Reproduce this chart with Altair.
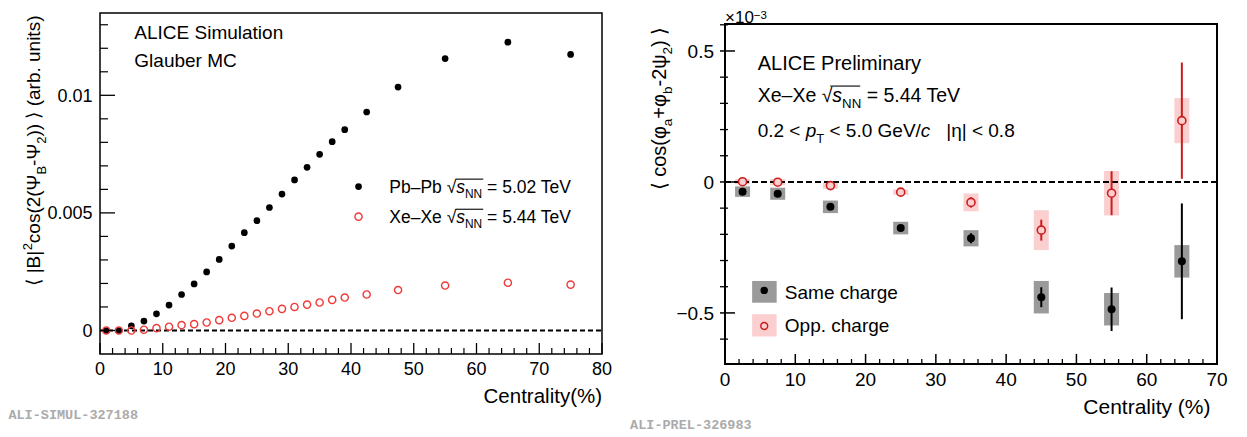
import altair as alt
import pandas as pd

SANS = "Liberation Sans"
MONO = "Liberation Mono"

# ---------------- Left panel: Glauber MC ----------------
cent_left = [1, 3, 5, 7, 9, 11, 13, 15, 17, 19, 21, 23, 25, 27, 29, 31, 33, 35, 37, 39,
             42.5, 47.5, 55, 65, 75]
pbpb_b2 = [0.0, 0.0, 0.00020, 0.00040, 0.00071, 0.00108, 0.00153, 0.00198, 0.00249, 0.00302,
           0.00359, 0.00416, 0.00467, 0.00523, 0.00580, 0.00640, 0.00694, 0.00749, 0.00803, 0.00854,
           0.00929, 0.01035, 0.01156, 0.01226, 0.01174]
xexe_b2 = [0.0, 0.0, 0.0, 0.00003, 0.00010, 0.00016, 0.00023, 0.00027, 0.00034, 0.00044,
           0.00054, 0.00062, 0.00072, 0.00082, 0.00092, 0.00100, 0.00110, 0.00119, 0.00130, 0.00140,
           0.00153, 0.00172, 0.00191, 0.00203, 0.00195]

# ---------------- Right panel: ALICE Preliminary (x 1e-3) ----------------
cent_right = [2.5, 7.5, 15, 25, 35, 45, 55, 65]
same_val = [-0.037, -0.045, -0.095, -0.176, -0.215, -0.440, -0.486, -0.303]
same_stat = [0.005, 0.005, 0.006, 0.008, 0.019, 0.038, 0.083, 0.221]
same_sys = [0.020, 0.023, 0.024, 0.024, 0.031, 0.062, 0.062, 0.062]
opp_val = [0.001, -0.001, -0.014, -0.039, -0.078, -0.184, -0.043, 0.234]
opp_stat = [0.004, 0.004, 0.005, 0.007, 0.020, 0.040, 0.084, 0.222]
opp_sys = [0.010, 0.012, 0.012, 0.010, 0.034, 0.076, 0.085, 0.086]

# tick values and tick labels
left_x_major = list(range(0, 81, 10))
left_x_labels = ["0", "10", "20", "30", "40", "50", "60", "70", "80"]
left_x_minor = [v for v in range(0, 81, 2) if v % 10]
left_y_major = [0, 0.005, 0.01]
left_y_labels = ["0", "0.005", "0.01"]
left_y_minor = [round(i * 0.001, 4) for i in range(1, 14) if i % 5]
right_x_major = list(range(0, 71, 10))
right_x_labels = ["0", "10", "20", "30", "40", "50", "60", "70"]
right_x_minor = [v for v in range(0, 71, 2) if v % 10]
right_y_major = [-0.5, 0, 0.5]
right_y_labels = ["−0.5", "0", "0.5"]
right_y_minor = [round(i * 0.1, 1) for i in range(-6, 7) if i % 5]

df_left = pd.DataFrame({"cent": cent_left, "pb": pbpb_b2, "xe": xexe_b2})
df_right = pd.DataFrame({
    "cent": cent_right,
    "same": same_val, "opp": opp_val,
    "same_lo": [v - e for v, e in zip(same_val, same_stat)],
    "same_hi": [v + e for v, e in zip(same_val, same_stat)],
    "same_slo": [v - e for v, e in zip(same_val, same_sys)],
    "same_shi": [v + e for v, e in zip(same_val, same_sys)],
    "opp_lo": [v - e for v, e in zip(opp_val, opp_stat)],
    "opp_hi": [v + e for v, e in zip(opp_val, opp_stat)],
    "opp_slo": [v - e for v, e in zip(opp_val, opp_sys)],
    "opp_shi": [v + e for v, e in zip(opp_val, opp_sys)],
})
one = pd.DataFrame({"k": [0]})

# scales (explicit pixel ranges place the two panels)
LX_DOM, LX_RNG = [0, 80], [92, 594]
LY_DOM, LY_RNG = [-0.001, 0.0135], [346, 5]
RX_DOM, RX_RNG = [0, 70], [712, 1214]
RY_DOM, RY_RNG = [-0.695, 0.603], [356, 16]
lxs = alt.Scale(domain=LX_DOM, range=LX_RNG, nice=False, zero=False)
lys = alt.Scale(domain=LY_DOM, range=LY_RNG, nice=False, zero=False)
rxs = alt.Scale(domain=RX_DOM, range=RX_RNG, nice=False, zero=False)
rys = alt.Scale(domain=RY_DOM, range=RY_RNG, nice=False, zero=False)


def k(dom, rng):
    return abs((rng[1] - rng[0]) / (dom[1] - dom[0]))


KLX, KLY, KRX, KRY = k(LX_DOM, LX_RNG), k(LY_DOM, LY_RNG), k(RX_DOM, RX_RNG), k(RY_DOM, RY_RNG)

# ---------------- rich text helper ----------------
W = {' ': 278, '(': 333, ')': 333, '+': 584, '-': 333, '.': 278, '/': 278, '<': 584, '=': 584,
     '%': 889, '|': 260, '×': 584, '–': 556, '−': 584, '√': 549, '⟨': 390, '⟩': 390,
     'Ψ': 835, 'φ': 650, 'ψ': 712, 'η': 556}
for ch in "0123456789":
    W[ch] = 556
W.update({'A': 667, 'B': 667, 'C': 722, 'E': 667, 'G': 778, 'I': 278, 'L': 556, 'M': 833,
          'N': 722, 'P': 667, 'S': 667, 'T': 611, 'V': 667, 'X': 667})
W.update({'a': 556, 'b': 556, 'c': 500, 'e': 556, 'g': 556, 'h': 556, 'i': 222, 'l': 222,
          'm': 833, 'n': 556, 'o': 556, 'p': 556, 'r': 333, 's': 500, 't': 278, 'u': 556,
          'y': 500})


def tw(s, size):
    return sum(W.get(ch, 556) for ch in s) / 1000.0 * size


def rich(pieces, x, y, xs, ys, size, angle=0, align="left", color="black", sup_dy=0.42):
    sizes = [size * 0.68 if k in ("sub", "sup") else size for _, k in pieces]
    widths = [tw(t, fs) for (t, _), fs in zip(pieces, sizes)]
    cum = 0.0 if align == "left" else -sum(widths)
    out = []
    for (t, k), fs, w in zip(pieces, sizes, widths):
        lead = len(t) - len(t.lstrip(" "))
        txt = t.strip(" ")
        if k != "sp" and txt:
            dy = 0.30 * size if k == "sub" else (-sup_dy * size if k == "sup" else 0)
            out.append(
                alt.Chart(one).mark_text(
                    text=txt, align="left", baseline="alphabetic",
                    dx=cum + tw(" " * lead, fs), dy=dy, fontSize=fs, font=SANS,
                    fontStyle="italic" if k == "i" else "normal", angle=angle, color=color,
                ).encode(x=alt.XDatum(x, scale=xs, axis=None), y=alt.YDatum(y, scale=ys, axis=None))
            )
        cum += w
    return out


def sqrt_bar(prefix, x, y, xs, ys, kx, ky, size):
    """Overline of the radical sign that follows `prefix` (covers s_NN)."""
    start = tw(prefix, size) - 0.6
    end = tw(prefix, size) + tw("s", size) + tw("NN", size * 0.68) + 1
    rise = 0.80 * size
    return alt.Chart(one).mark_rule(color="black", strokeWidth=1.1).encode(
        x=alt.XDatum(x + start / kx, scale=xs, axis=None), x2=alt.X2Datum(x + end / kx),
        y=alt.YDatum(y + rise / ky, scale=ys, axis=None))


def xticks(vals, xs, y0, length, sw):
    return alt.Chart(pd.DataFrame({"v": vals})).mark_rule(color="black", strokeWidth=sw).encode(
        x=alt.X("v:Q", scale=xs, axis=None), y=alt.value(y0), y2=alt.value(y0 - length))


def yticks(vals, ys, x0, length, sw):
    return alt.Chart(pd.DataFrame({"v": vals})).mark_rule(color="black", strokeWidth=sw).encode(
        y=alt.Y("v:Q", scale=ys, axis=None), x=alt.value(x0), x2=alt.value(x0 + length))


def xlabels(vals, texts, xs, ybase, size):
    return alt.Chart(pd.DataFrame({"v": vals, "t": texts})).mark_text(
        align="center", baseline="alphabetic", font=SANS, fontSize=size, color="black").encode(
        x=alt.X("v:Q", scale=xs, axis=None), y=alt.value(ybase), text="t:N")


def ylabels(vals, texts, ys, xright, size):
    return alt.Chart(pd.DataFrame({"v": vals, "t": texts})).mark_text(
        align="right", baseline="alphabetic", dy=0.358 * size, font=SANS, fontSize=size,
        color="black").encode(
        y=alt.Y("v:Q", scale=ys, axis=None), x=alt.value(xright), text="t:N")


# ---------------- left panel layers ----------------
L = []
L.append(alt.Chart(one).mark_rule(color="black", strokeWidth=2, strokeDash=[5, 3]).encode(
    x=alt.XDatum(0, scale=lxs, axis=None), x2=alt.X2Datum(80), y=alt.YDatum(0, scale=lys, axis=None)))
L.append(alt.Chart(df_left).mark_circle(size=45, color="black", opacity=1).encode(
    x=alt.X("cent:Q", scale=lxs, axis=None), y=alt.Y("pb:Q", scale=lys, axis=None)))
L.append(alt.Chart(df_left).mark_point(shape="circle", filled=False, size=52, color="#f03a3a",
                                        strokeWidth=1.4, opacity=1).encode(
    x=alt.X("cent:Q", scale=lxs, axis=None), y=alt.Y("xe:Q", scale=lys, axis=None)))
L.append(alt.Chart(one).mark_rect(fillOpacity=0, stroke="black", strokeWidth=1.5).encode(
    x=alt.XDatum(0, scale=lxs, axis=None), x2=alt.X2Datum(80),
    y=alt.YDatum(-0.001, scale=lys, axis=None), y2=alt.Y2Datum(0.0135)))
L += [xticks(left_x_major, lxs, 346, 11, 1.3), xticks(left_x_minor, lxs, 346, 6, 1.2),
      yticks(left_y_major, lys, 92, 15, 1.3), yticks(left_y_minor, lys, 92, 8, 1.2)]
L += [xlabels(left_x_major, left_x_labels, lxs, 366.5, 18),
      ylabels(left_y_major, left_y_labels, lys, 84.5, 18)]
# legend markers
L.append(alt.Chart(one).mark_circle(size=45, color="black", opacity=1).encode(
    x=alt.XDatum(41.2, scale=lxs, axis=None), y=alt.YDatum(0.00612, scale=lys, axis=None)))
L.append(alt.Chart(one).mark_point(shape="circle", filled=False, size=52, color="#f03a3a",
                                    strokeWidth=1.4, opacity=1).encode(
    x=alt.XDatum(41.2, scale=lxs, axis=None), y=alt.YDatum(0.00484, scale=lys, axis=None)))
L += rich([("ALICE Simulation", "n")], 5.47, 0.01238, lxs, lys, 19)
L += rich([("Glauber MC", "n")], 5.47, 0.01121, lxs, lys, 19)
L += rich([("Pb–Pb √", "n"), ("s", "i"), ("NN", "sub"), (" = 5.02 TeV", "n")], 46.1, 0.00584, lxs, lys, 17.5)
L.append(sqrt_bar("Pb–Pb √", 46.1, 0.00584, lxs, lys, KLX, KLY, 17.5))
L += rich([("Xe–Xe √", "n"), ("s", "i"), ("NN", "sub"), (" = 5.44 TeV", "n")], 46.1, 0.00456, lxs, lys, 17.5)
L.append(sqrt_bar("Xe–Xe √", 46.1, 0.00456, lxs, lys, KLX, KLY, 17.5))
L += rich([("Centrality(%)", "n")], 80, -0.00307, lxs, lys, 20.5, align="right")
L += rich([("⟨ |B|", "n"), ("2", "sup"), ("cos(2(Ψ", "n"), ("B", "sub"), ("-Ψ", "n"), ("2", "sub"),
           (")) ⟩ (arb. units)", "n")], -9.56, 0.01341, lxs, lys, 19, angle=270, align="right")
L.append(alt.Chart(one).mark_text(text="ALI-SIMUL-327188", align="left", baseline="middle", font=MONO,
                                   fontWeight="bold", fontSize=13.5, color="#ababab").encode(
    x=alt.XDatum(-14.6, scale=lxs, axis=None), y=alt.YDatum(-0.00358, scale=lys, axis=None)))
left = alt.layer(*L)

# ---------------- right panel layers ----------------
GREY = "#9a9a9a"
PINK = "#fbcfcf"
RED = "#cc1c1c"
R = []
R.append(alt.Chart(df_right).mark_bar(size=15, color=GREY).encode(
    x=alt.X("cent:Q", scale=rxs, axis=None), y=alt.Y("same_slo:Q", scale=rys, axis=None),
    y2="same_shi:Q"))
R.append(alt.Chart(df_right).mark_bar(size=15, color=PINK).encode(
    x=alt.X("cent:Q", scale=rxs, axis=None), y=alt.Y("opp_slo:Q", scale=rys, axis=None), y2="opp_shi:Q"))
R.append(alt.Chart(one).mark_rule(color="black", strokeWidth=2, strokeDash=[6, 3]).encode(
    x=alt.XDatum(0, scale=rxs, axis=None), x2=alt.X2Datum(70), y=alt.YDatum(0, scale=rys, axis=None)))
R.append(alt.Chart(df_right).mark_rule(color="black", strokeWidth=2).encode(
    x=alt.X("cent:Q", scale=rxs, axis=None), y=alt.Y("same_lo:Q", scale=rys, axis=None), y2="same_hi:Q"))
R.append(alt.Chart(df_right).mark_rule(color=RED, strokeWidth=2).encode(
    x=alt.X("cent:Q", scale=rxs, axis=None), y=alt.Y("opp_lo:Q", scale=rys, axis=None), y2="opp_hi:Q"))
R.append(alt.Chart(df_right).mark_circle(size=64, color="black", opacity=1).encode(
    x=alt.X("cent:Q", scale=rxs, axis=None), y=alt.Y("same:Q", scale=rys, axis=None)))
R.append(alt.Chart(df_right).mark_point(shape="circle", filled=False, size=64, stroke=RED, fill=PINK,
                                         fillOpacity=1, strokeWidth=1.6, opacity=1).encode(
    x=alt.X("cent:Q", scale=rxs, axis=None), y=alt.Y("opp:Q", scale=rys, axis=None)))
R.append(alt.Chart(one).mark_rect(fillOpacity=0, stroke="black", strokeWidth=2).encode(
    x=alt.XDatum(0, scale=rxs, axis=None), x2=alt.X2Datum(70),
    y=alt.YDatum(-0.695, scale=rys, axis=None), y2=alt.Y2Datum(0.603)))
R += [xticks(right_x_major, rxs, 356, 10, 1.5), xticks(right_x_minor, rxs, 356, 5, 1.3),
      yticks(right_y_major, rys, 712, 15, 1.5), yticks(right_y_minor, rys, 712, 8, 1.3)]
R += [xlabels(right_x_major, right_x_labels, rxs, 377.5, 19),
      ylabels(right_y_major, right_y_labels, rys, 706, 19)]
# legend
R.append(alt.Chart(one).mark_rect(color=GREY).encode(
    x=alt.XDatum(3.86, scale=rxs, axis=None), x2=alt.X2Datum(7.35),
    y=alt.YDatum(-0.378, scale=rys, axis=None), y2=alt.Y2Datum(-0.461)))
R.append(alt.Chart(one).mark_rect(color=PINK).encode(
    x=alt.XDatum(3.86, scale=rxs, axis=None), x2=alt.X2Datum(7.35),
    y=alt.YDatum(-0.505, scale=rys, axis=None), y2=alt.Y2Datum(-0.590)))
R.append(alt.Chart(one).mark_circle(size=55, color="black", opacity=1).encode(
    x=alt.XDatum(5.58, scale=rxs, axis=None), y=alt.YDatum(-0.414, scale=rys, axis=None)))
R.append(alt.Chart(one).mark_point(shape="circle", filled=False, size=48, color=RED, strokeWidth=1.4,
                                    opacity=1).encode(
    x=alt.XDatum(5.58, scale=rxs, axis=None), y=alt.YDatum(-0.550, scale=rys, axis=None)))
R += rich([("Same charge", "n")], 8.51, -0.447, rxs, rys, 19)
R += rich([("Opp. charge", "n")], 8.51, -0.573, rxs, rys, 19)
R += rich([("ALICE Preliminary", "n")], 4.65, 0.427, rxs, rys, 20)
R += rich([("Xe–Xe √", "n"), ("s", "i"), ("NN", "sub"), (" = 5.44 TeV", "n")], 4.65, 0.3065, rxs, rys, 19.5)
R.append(sqrt_bar("Xe–Xe √", 4.65, 0.3065, rxs, rys, KRX, KRY, 19.5))
R += rich([("0.2 < ", "n"), ("p", "i"), ("T", "sub"), (" < 5.0 GeV/", "n"), ("c", "i"), ("   ", "sp"),
           ("|η| < 0.8", "n")], 4.65, 0.172, rxs, rys, 19)
R += rich([("×10", "n"), ("−3", "sup")], 0, 0.607, rxs, rys, 17, sup_dy=0.25)
R += rich([("Centrality (%)", "n")], 69.07, -0.885, rxs, rys, 21, align="right")
R += rich([("⟨ cos(φ", "n"), ("a", "sub"), ("+φ", "n"), ("b", "sub"), ("-2ψ", "n"), ("2", "sub"),
           (") ⟩", "n")], -8.4, 0.592, rxs, rys, 20, angle=270, align="right")
R.append(alt.Chart(one).mark_text(text="ALI-PREL-326983", align="left", baseline="middle", font=MONO,
                                   fontWeight="bold", fontSize=13.5, color="#ababab").encode(
    x=alt.XDatum(-13.5, scale=rxs, axis=None), y=alt.YDatum(-0.927, scale=rys, axis=None)))
right = alt.layer(*R)

chart = alt.layer(left, right).resolve_scale(x="independent", y="independent").properties(
    width=1231, height=356,
    autosize=alt.AutoSizeParams(type="none"),
    padding={"left": 0, "top": 0, "right": 0, "bottom": 73},
    background="white",
).configure_view(stroke=None)

chart.save("out.html", embed_options={"renderer": "svg", "actions": False})
